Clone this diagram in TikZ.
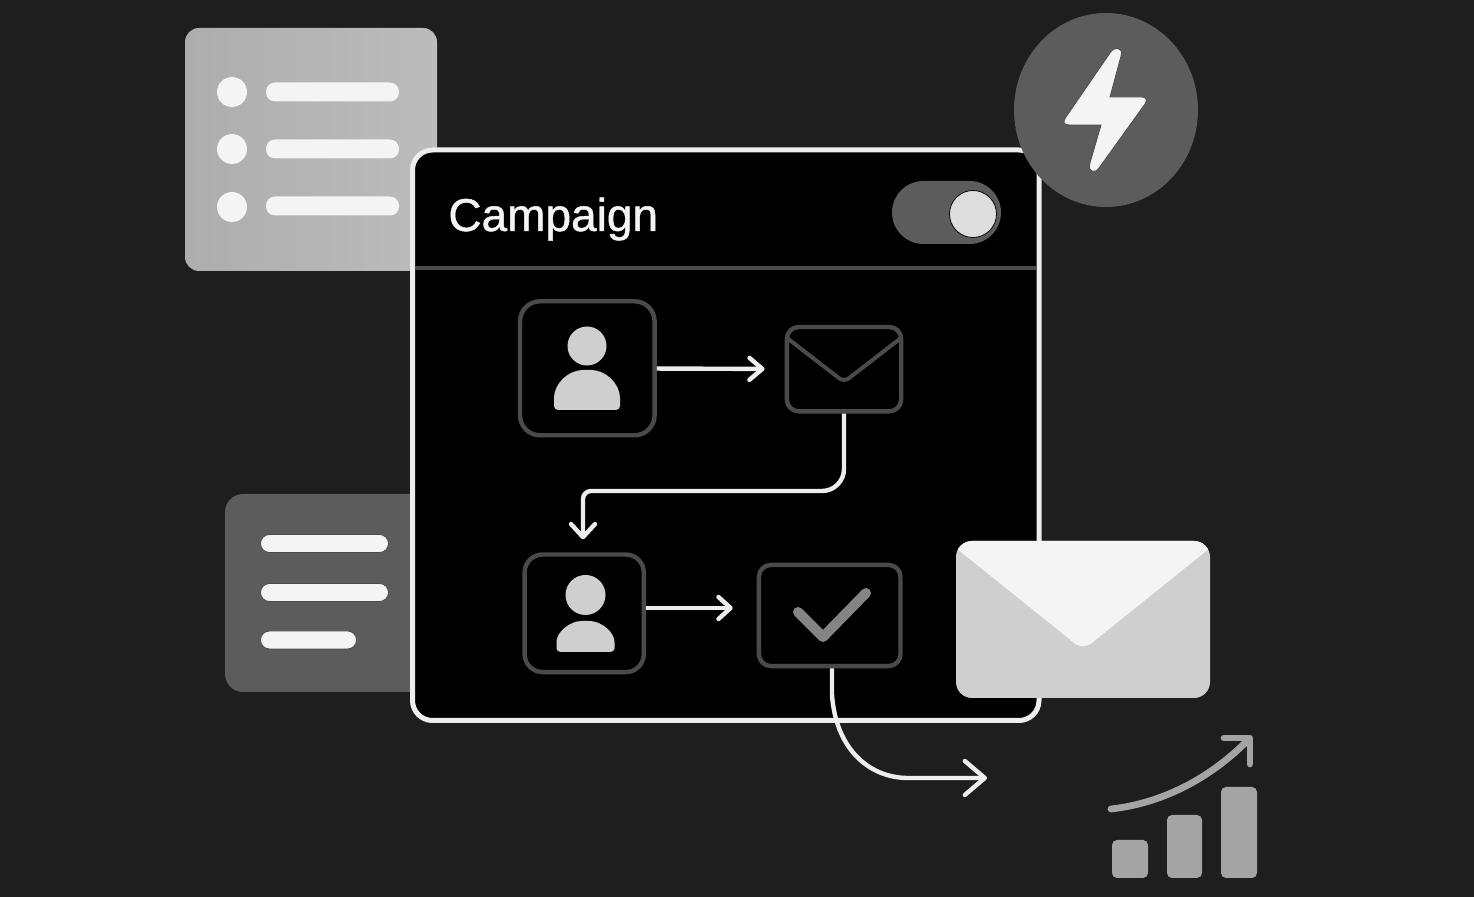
\documentclass[tikz,border=0pt]{standalone}
\usepackage{fontspec}
\setmainfont{Liberation Sans}
\newfontfamily\titlefont[FakeBold=1]{Liberation Sans}
\usetikzlibrary{arrows.meta,shapes.geometric}

\definecolor{bgdark}{HTML}{1E1E1E}
\definecolor{cardlight}{HTML}{B6B6B6}
\definecolor{carddark}{HTML}{5C5C5C}
\definecolor{edgegray}{HTML}{4A4A4A}
\definecolor{iconlight}{HTML}{CFCFCF}
\definecolor{nearwhite}{HTML}{F4F4F4}
\definecolor{flowwhite}{HTML}{EDEDED}
\definecolor{midgray}{HTML}{848484}
\definecolor{chartgray}{HTML}{A4A4A4}

\tikzset{
    blob/.style={inner sep=0pt, outer sep=0pt},
    listcard/.style={blob, rounded corners=7pt, left color=cardlight!95!black, right color=cardlight!92!white},
    notecard/.style={blob, fill=carddark, rounded corners=9pt},
    panel/.style={blob, draw=flowwhite, fill=black, line width=2.5pt, rounded corners=10pt},
    iconbox/.style={draw=edgegray, fill=black, line width=2.2pt, inner sep=0pt},
    pillbar/.style={blob, fill=nearwhite, rounded corners=4.5pt},
    darkbar/.style={pillbar, draw=black!70, line width=0.4pt},
    bullet/.style={blob, circle, fill=nearwhite, minimum size=15pt},
    headdot/.style={blob, circle, fill=iconlight},
    chartbar/.style={blob, fill=chartgray, rounded corners=2.5pt},
    flow/.style={draw=flowwhite, line width=2.2pt},
    trend/.style={draw=chartgray, line width=3.4pt, line cap=round, line join=round},
}

\begin{document}
\begin{tikzpicture}[x=0.5pt,y=-0.5pt]
    \useasboundingbox (0,0) rectangle (1474,897);
    \fill[bgdark] (0,0) rectangle (1474,897);

    % cards behind the panel
    \node[listcard,minimum width=126pt,minimum height=121.5pt] (listcard) at (311,149.5) {};
    \node[bullet] (dot1) at (232,92) {};
    \node[bullet] (dot2) at (232,149) {};
    \node[bullet] (dot3) at (232,207) {};
    \node[pillbar,minimum width=66.5pt,minimum height=9.5pt] (line1) at (332.5,92) {};
    \node[pillbar,minimum width=66.5pt,minimum height=9.5pt] (line2) at (332.5,149) {};
    \node[pillbar,minimum width=66.5pt,minimum height=9.5pt] (line3) at (332.5,206) {};

    \node[notecard,minimum width=110pt,minimum height=99pt] (notecard) at (335,593) {};
    \node[darkbar,minimum width=64pt,minimum height=9pt] (note1) at (324.5,543.5) {};
    \node[darkbar,minimum width=64pt,minimum height=9pt] (note2) at (324.5,592.5) {};
    \node[darkbar,minimum width=48pt,minimum height=9pt] (note3) at (308.5,640) {};

    % main panel
    \node[panel,minimum width=313.25pt,minimum height=285.25pt] (panel) at (725.75,435.25) {};
    \node[anchor=base west,inner sep=0pt,text=nearwhite,font=\titlefont\fontsize{23}{23}\selectfont] (title) at (448,231) {Campaign};
    \coordinate (ruleleft) at (415,268.5);
    \coordinate (ruleright) at (1036,268.5);
    \draw[edgegray,line width=2pt] (ruleleft) -- (ruleright);
    \node[blob,fill=carddark,rounded corners=15.75pt,minimum width=54.5pt,minimum height=31.5pt] (toggle) at (946.5,212.5) {};
    \node[blob,circle,draw=black,line width=0.4pt,fill=iconlight!70!white,minimum size=23.5pt] (knob) at (973,214) {};

    % flow boxes
    \node[iconbox,rounded corners=10pt,minimum width=67.3pt,minimum height=67pt] (person1) at (587.3,368.3) {};
    \node[headdot,minimum size=19.5pt] (head1) at (587,346) {};
    \fill[iconlight,rounded corners=2pt] (554,410) -- (554,402) .. controls (554,384) and (568,370) .. (587,370) .. controls (606,370) and (620,384) .. (620,402) -- (620,410) -- cycle;

    \node[iconbox,rounded corners=6pt,minimum width=57.2pt,minimum height=42.2pt] (mailbox) at (844,369.2) {};
    \draw[edgegray,line width=2pt,rounded corners=3pt] (787,338) -- (844,382) -- (901,338);

    \node[iconbox,rounded corners=9pt,minimum width=59.6pt,minimum height=58.8pt] (person2) at (584.2,613.3) {};
    \node[headdot,minimum size=20pt] (head2) at (585.5,595) {};
    \fill[iconlight,rounded corners=2pt] (556.5,652) -- (556.5,646) .. controls (556.5,632) and (570,621) .. (585.5,621) .. controls (601,621) and (614.5,632) .. (614.5,646) -- (614.5,652) -- cycle;

    \node[iconbox,rounded corners=6pt,minimum width=70.8pt,minimum height=50.6pt] (checkbox) at (829.7,615.5) {};
    \draw[midgray,line width=5pt,line cap=round,line join=round] (798,612) -- (823,637) -- (866,593);

    % connectors
    \draw[flow,-{Straight Barb[round,length=6.5pt,width=11pt]},shorten >=10pt] (person1) -- (mailbox);
    \draw[flow,-{Straight Barb[round,length=6.5pt,width=12pt]},shorten >=6.5pt] (mailbox.south) [rounded corners=11pt] -- (mailbox.south |- 0,491) [rounded corners=4pt] -- (583,491) -- (person2.north -| 583,0);
    \draw[flow,-{Straight Barb[round,length=6pt,width=11pt]},shorten >=12pt] (person2.east |- 0,608) -- (checkbox.west |- 0,608);
    \coordinate (flowend) at (987,778);
    \draw[flow,-{Straight Barb[round,length=10pt,width=17pt]}] (checkbox.south -| 832,0) -- (832,695) .. controls (836,750) and (870,778) .. (908,778) -- (flowend);

    % bolt badge
    \node[blob,ellipse,fill=carddark,minimum width=92pt,minimum height=97pt] (badge) at (1106,110) {};
    \fill[nearwhite,draw=black!70,line width=0.4pt] (1110,97) -- (1121,56) .. controls (1124,47) and (1114,46) .. (1110,53) -- (1066,117) .. controls (1062,123) and (1064,125) .. (1070,125) -- (1101,125) -- (1090,163) .. controls (1087,172) and (1095,174) .. (1099,168) -- (1145,104) .. controls (1148,99) and (1146,97) .. (1141,97) -- cycle;

    % big envelope
    \node[blob,fill=iconlight,rounded corners=8pt,minimum width=127pt,minimum height=78.5pt] (bigmail) at (1083,619.5) {};
    \begin{scope}
        \clip[rounded corners=8pt] (956,541) rectangle (1210,698);
        \fill[nearwhite] (956,548) [rounded corners=5pt] -- (1083,650) [sharp corners] -- (1210,548) -- (1210,530) -- (956,530) -- cycle;
    \end{scope}

    % growth chart
    \node[chartbar,minimum width=18pt,minimum height=19pt] (bar1) at (1130,859) {};
    \node[chartbar,minimum width=17.5pt,minimum height=31.5pt] (bar2) at (1184.5,846.5) {};
    \node[chartbar,minimum width=18pt,minimum height=45.5pt] (bar3) at (1239,832.5) {};
    \coordinate (trendstart) at (1111,809);
    \coordinate (trendend) at (1249,739);
    \draw[trend] (trendstart) .. controls (1165,803) and (1213,776) .. (trendend);
    \draw[trend] (1224,738) -- (1250,738) -- (1250,764);
\end{tikzpicture}
\end{document}
